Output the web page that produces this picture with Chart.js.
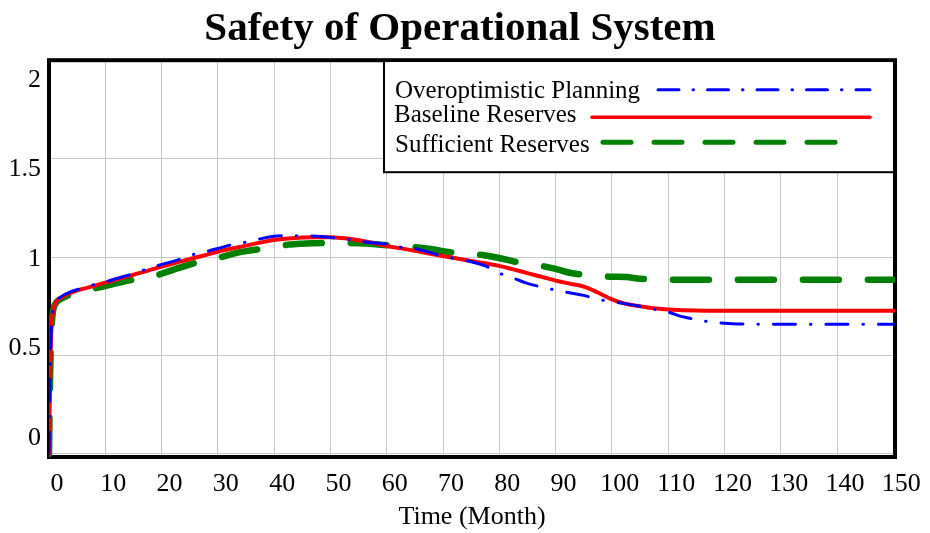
<!DOCTYPE html>
<html>
<head>
<meta charset="utf-8">
<title>Safety of Operational System</title>
<script src="https://cdn.jsdelivr.net/npm/chart.js@4"></script>
<style>
  html, body { margin: 0; padding: 0; background: #fff; }
  #chart { display: block; }
</style>
</head>
<body>
<canvas id="chart" width="930" height="533"></canvas>
<script>
// simulation output, sampled every 2.5 months (denser near the start-up jump)
const months = [0, 0.2, 0.4, 0.7, 1.2, 2, 4, 6, 8, 10, 12.5, 15, 17.5, 20, 22.5, 25, 27.5, 30,
  32.5, 35, 37.5, 40, 42.5, 45, 47.5, 50, 52.5, 55, 57.5, 60, 62.5, 65, 67.5, 70, 72.5, 75,
  77.5, 80, 82.5, 85, 87.5, 90, 92.5, 95, 97.5, 100, 102.5, 105, 107.5, 110, 112.5, 115,
  117.5, 120, 122.5, 125, 130, 135, 140, 145, 150];

const overoptimistic = [0, 0.4, 0.62, 0.73, 0.775, 0.795, 0.825, 0.842, 0.86, 0.873, 0.895,
  0.915, 0.94, 0.962, 0.982, 1.008, 1.025, 1.043, 1.063, 1.076, 1.092, 1.105, 1.108, 1.107,
  1.106, 1.099, 1.092, 1.082, 1.072, 1.066, 1.05, 1.043, 1.025, 1.005, 0.99, 0.976, 0.955,
  0.918, 0.893, 0.866, 0.848, 0.832, 0.818, 0.805, 0.785, 0.774, 0.762, 0.75, 0.735, 0.72,
  0.697, 0.683, 0.67, 0.664, 0.66, 0.659, 0.658, 0.658, 0.658, 0.658, 0.658];

const baseline = [0, 0.4, 0.62, 0.72, 0.77, 0.79, 0.82, 0.838, 0.853, 0.87, 0.89, 0.91, 0.93,
  0.951, 0.97, 0.99, 1.008, 1.027, 1.043, 1.058, 1.073, 1.086, 1.094, 1.099, 1.101, 1.1,
  1.095, 1.085, 1.072, 1.056, 1.044, 1.032, 1.018, 1.005, 0.993, 0.98, 0.968, 0.955, 0.937,
  0.918, 0.9, 0.88, 0.865, 0.85, 0.82, 0.785, 0.762, 0.75, 0.74, 0.733, 0.73, 0.728, 0.727,
  0.727, 0.727, 0.727, 0.727, 0.727, 0.727, 0.727, 0.727];

const sufficient = [0, 0.4, 0.61, 0.72, 0.765, 0.785, 0.812, 0.828, 0.84, 0.853, 0.87, 0.885,
  0.895, 0.915, 0.94, 0.962, 0.98, 0.995, 1.015, 1.03, 1.04, 1.05, 1.063, 1.068, 1.07,
  1.072, 1.072, 1.07, 1.066, 1.06, 1.055, 1.05, 1.042, 1.03, 1.02, 1.015, 1.008, 0.995,
  0.978, 0.965, 0.955, 0.94, 0.92, 0.91, 0.903, 0.9, 0.898, 0.89, 0.886, 0.885, 0.885,
  0.885, 0.885, 0.885, 0.885, 0.885, 0.885, 0.885, 0.885, 0.885, 0.885];

const seriesNames = ['Overoptimistic Planning', 'Baseline Reserves', 'Sufficient Reserves'];
const monthTicks = [0, 10, 20, 30, 40, 50, 60, 70, 80, 90, 100, 110, 120, 130, 140, 150];
const safetyTicks = [0, 0.5, 1, 1.5, 2];

const SERIF = '"Liberation Serif", "Times New Roman", serif';
Chart.defaults.font.family = SERIF;
Chart.defaults.color = '#000';

function points(values) {
  return months.map((m, i) => ({ x: m, y: values[i] }));
}

function fixedTicks(list) {
  return scale => { scale.ticks = list.map(v => ({ value: v })); };
}

// thick black box round the plot area, under the curves
const frame = {
  id: 'frame',
  beforeDatasetsDraw(chart) {
    const { ctx, chartArea: a } = chart;
    ctx.save();
    ctx.strokeStyle = '#000';
    ctx.lineWidth = 4;
    ctx.strokeRect(a.left, a.top, a.right - a.left, a.bottom - a.top);
    ctx.restore();
  }
};

// boxed legend in the top right corner, line samples to the right of the names
const legendRows = [
  { textX: 346, baseline: 38, from: 609, to: 821, lineY: 29.5 },
  { textX: 345, baseline: 62, from: 543, to: 821, lineY: 57 },
  { textX: 346, baseline: 92, from: 554, to: 801, lineY: 82 }
];
const legendStyles = [
  { color: '#0000ff', width: 3, dash: [21, 14, 0.5, 14] },
  { color: '#ff0000', width: 3.5, dash: [] },
  { color: '#008000', width: 5, dash: [28, 23] }
];
const legendBox = {
  id: 'legendBox',
  afterDraw(chart) {
    const { ctx, chartArea: a } = chart;
    const x0 = a.left + 335, x1 = a.right - 1, y0 = a.top, y1 = a.top + 112;
    ctx.save();
    ctx.fillStyle = '#fff';
    ctx.fillRect(x0, y0 + 2, x1 - x0, y1 - y0 - 2);
    ctx.strokeStyle = '#000';
    ctx.lineWidth = 2;
    ctx.strokeRect(x0, y0, x1 - x0, y1 - y0);
    ctx.font = '25px ' + SERIF;
    ctx.textBaseline = 'alphabetic';
    ctx.textAlign = 'left';
    legendRows.forEach((row, i) => {
      const st = legendStyles[i];
      ctx.fillStyle = '#000';
      ctx.fillText(chart.data.datasets[i].label, a.left + row.textX, a.top + row.baseline);
      ctx.beginPath();
      ctx.strokeStyle = st.color;
      ctx.lineWidth = st.width;
      ctx.lineCap = 'round';
      ctx.setLineDash(st.dash);
      ctx.moveTo(a.left + row.from, a.top + row.lineY);
      ctx.lineTo(a.left + row.to, a.top + row.lineY);
      ctx.stroke();
    });
    ctx.restore();
  }
};

new Chart(document.getElementById('chart'), {
  type: 'line',
  data: {
    datasets: [{
      label: seriesNames[0],
      data: points(overoptimistic),
      borderColor: '#0000ff',
      borderWidth: 3,
      borderDash: [22, 15, 0.5, 15],
      borderCapStyle: 'round',
      cubicInterpolationMode: 'monotone',
      pointRadius: 0,
      fill: false
    }, {
      label: seriesNames[1],
      data: points(baseline),
      borderColor: '#ff0000',
      borderWidth: 4,
      borderCapStyle: 'round',
      cubicInterpolationMode: 'monotone',
      pointRadius: 0,
      fill: false
    }, {
      label: seriesNames[2],
      data: points(sufficient),
      borderColor: '#008000',
      borderWidth: 6.5,
      borderDash: [36, 29],
      borderCapStyle: 'round',
      cubicInterpolationMode: 'monotone',
      pointRadius: 0,
      fill: false
    }]
  },
  options: {
    responsive: false,
    devicePixelRatio: 1,
    animation: false,
    layout: { padding: { left: 0, right: 10, top: 0, bottom: 0 } },
    plugins: {
      legend: { display: false },
      tooltip: { enabled: false },
      title: {
        display: true,
        text: 'Safety of Operational System',
        color: '#000',
        font: { size: 41, weight: 'bold', family: SERIF },
        padding: { top: 5, bottom: 6 }
      }
    },
    scales: {
      x: {
        type: 'linear',
        min: 0,
        max: 150.3,
        afterBuildTicks: fixedTicks(monthTicks),
        afterFit(scale) { scale.height = 76; },
        grid: { color: '#c8c8c8', drawTicks: false },
        border: { display: false },
        ticks: {
          font: { size: 26 },
          padding: 12,
          labelOffset: 8,
          autoSkip: false,
          maxRotation: 0
        },
        title: {
          display: true,
          text: 'Time (Month)',
          font: { size: 26 },
          padding: { top: 0, bottom: 0 }
        }
      },
      y: {
        type: 'linear',
        position: 'left',
        min: -0.016,
        max: 2,
        afterBuildTicks: fixedTicks(safetyTicks),
        afterFit(scale) { scale.width = 0; },
        grid: { color: '#c8c8c8', drawTicks: false },
        border: { display: false },
        ticks: { display: false }
      },
      // label-only axis: the value labels sit on a slightly wider spacing than the grid
      yl: {
        type: 'linear',
        position: 'left',
        min: -0.107,
        max: 2.112,
        afterBuildTicks: fixedTicks(safetyTicks),
        afterFit(scale) { scale.width = 49; },
        grid: { display: false, drawTicks: false },
        border: { display: false },
        ticks: { font: { size: 26 }, padding: 8, callback: v => String(v) }
      },
      // empty strip on the right so the plot ends short of the canvas edge
      yr: {
        type: 'linear',
        position: 'right',
        afterFit(scale) { scale.width = 25; },
        grid: { display: false, drawTicks: false },
        border: { display: false },
        ticks: { display: false }
      }
    }
  },
  plugins: [frame, legendBox]
});
</script>
</body>
</html>
